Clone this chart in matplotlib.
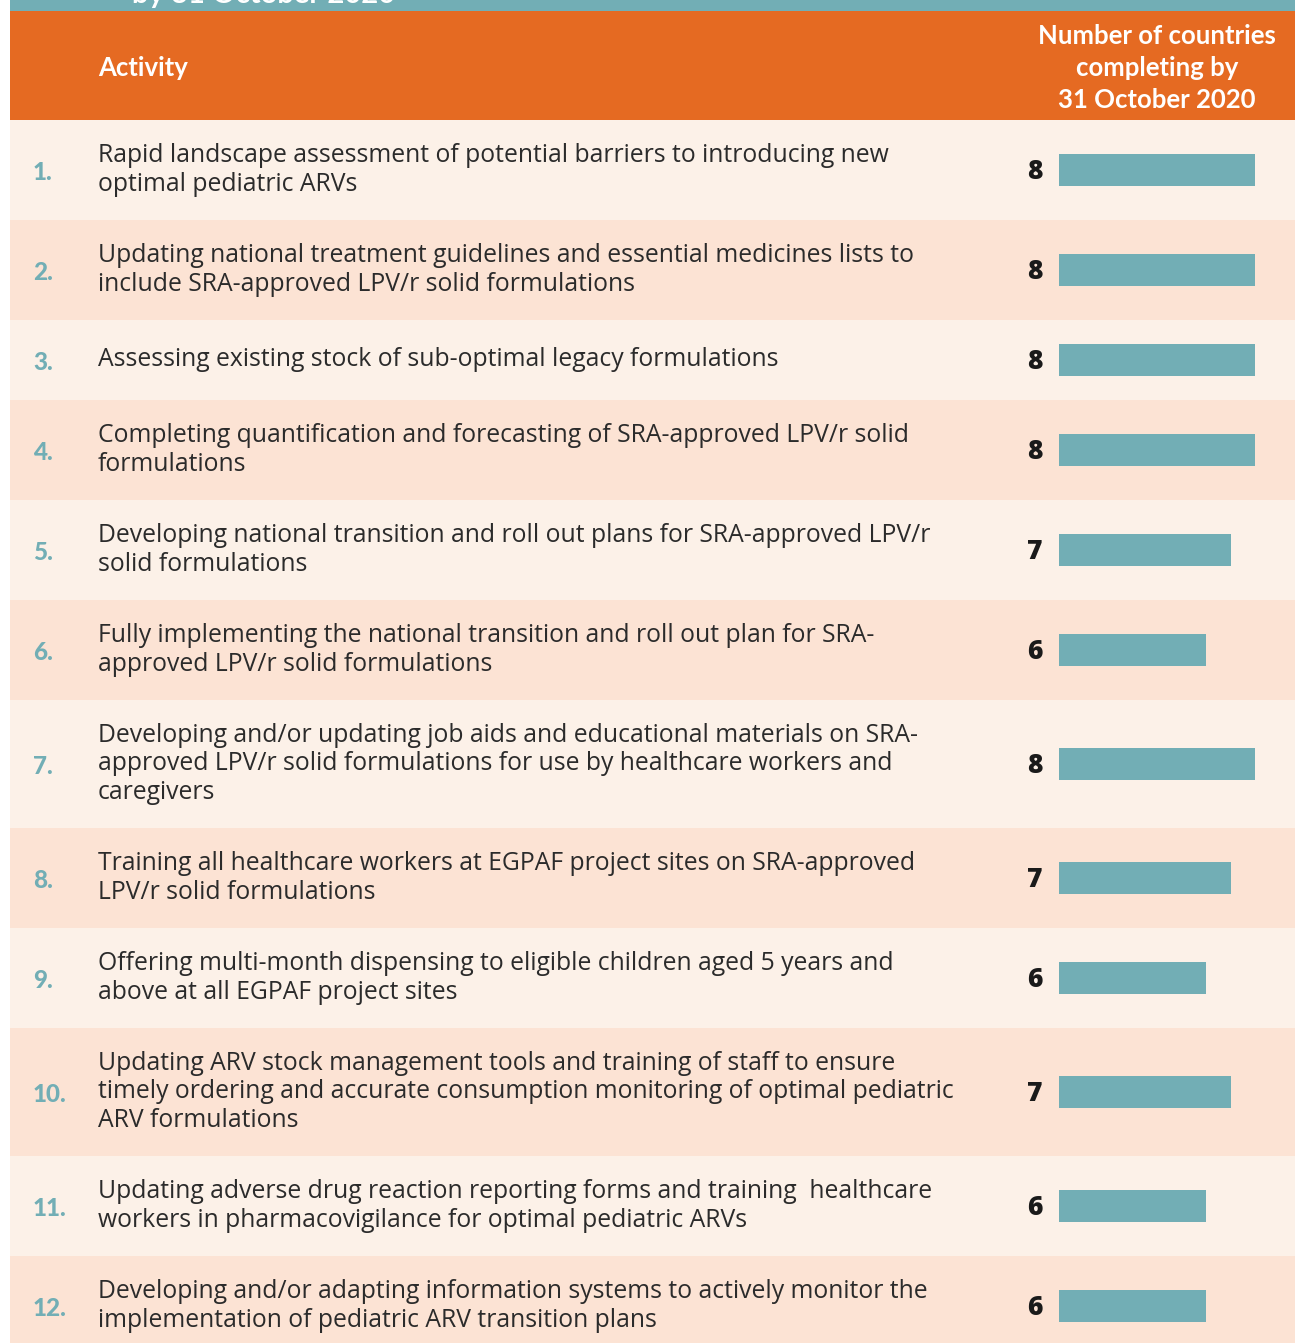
import matplotlib
matplotlib.use("Agg")
import matplotlib.pyplot as plt
from matplotlib.patches import Rectangle

activities = [
    "Rapid landscape assessment of potential barriers to introducing new\noptimal pediatric ARVs",
    "Updating national treatment guidelines and essential medicines lists to\ninclude SRA-approved LPV/r solid formulations",
    "Assessing existing stock of sub-optimal legacy formulations",
    "Completing quantification and forecasting of SRA-approved LPV/r solid\nformulations",
    "Developing national transition and roll out plans for SRA-approved LPV/r\nsolid formulations",
    "Fully implementing the national transition and roll out plan for SRA-\napproved LPV/r solid formulations",
    "Developing and/or updating job aids and educational materials on SRA-\napproved LPV/r solid formulations for use by healthcare workers and\ncaregivers",
    "Training all healthcare workers at EGPAF project sites on SRA-approved\nLPV/r solid formulations",
    "Offering multi-month dispensing to eligible children aged 5 years and\nabove at all EGPAF project sites",
    "Updating ARV stock management tools and training of staff to ensure\ntimely ordering and accurate consumption monitoring of optimal pediatric\nARV formulations",
    "Updating adverse drug reaction reporting forms and training  healthcare\nworkers in pharmacovigilance for optimal pediatric ARVs",
    "Developing and/or adapting information systems to actively monitor the\nimplementation of pediatric ARV transition plans",
]
countries = [8, 8, 8, 8, 7, 6, 8, 7, 6, 7, 6, 6]

W, H = 1295, 1343
TEAL = "#72aeb5"
ORANGE = "#e56a22"
ROW_COLORS = ["#fcf1e8", "#fce3d4"]
TEXT = "#2b2b2b"

plt.rcParams['font.family'] = ['Open Sans', 'DejaVu Sans']

fig = plt.figure(figsize=(W / 100, H / 100), dpi=100)
ax = fig.add_axes([0, 0, 1, 1])
ax.set_xlim(0, W)
ax.set_ylim(H, 0)
ax.axis('off')

# title band (cut off at the top of the page) and header
ax.add_patch(Rectangle((10, 0), W - 10, 11, color=TEAL, lw=0))
ax.text(132, 3, "by 31 October 2020", color="white", fontsize=21, fontweight='bold',
        va='baseline', ha='left', family='Lato')
ax.add_patch(Rectangle((10, 11), W - 10, 109, color=ORANGE, lw=0))
ax.text(98, 68, "Activity", color="white", fontsize=18.5, fontweight='bold',
        va='center', family='Lato')
ax.text(1157, 68, "Number of countries\ncompleting by\n31 October 2020", color="white",
        fontsize=18.5, fontweight='bold', va='center', ha='center', linespacing=1.4,
        family='Lato')

# row heights from number of text lines
heights = {1: 80, 2: 100, 3: 128}
y = 120
centers = []
for i, act in enumerate(activities):
    h = heights[act.count("\n") + 1]
    ax.add_patch(Rectangle((10, y), W - 10, h, color=ROW_COLORS[i % 2], lw=0))
    c = y + h / 2
    centers.append(c)
    ax.text(33, c + 2, f"{i + 1}.", color=TEAL, fontsize=17.5, fontweight='black',
            va='center', family='Lato')
    ax.text(98, c, act, color=TEXT, fontsize=17.8, va='center', linespacing=1.16)
    ax.text(1043, c + 2, str(countries[i]), color="#1a1a1a", fontsize=19,
            fontweight='heavy', va='center', ha='right')
    y += h

# bars in their own axes, sharing the pixel y scale
bx = fig.add_axes([1059 / W, 0, (W - 1059) / W, 1])
bx.set_xlim(0, (W - 1059) / 24.5)
bx.set_ylim(H, 0)
bx.axis('off')
bx.barh(centers, countries, height=32, color=TEAL)

fig.savefig("out.png", dpi=100)
